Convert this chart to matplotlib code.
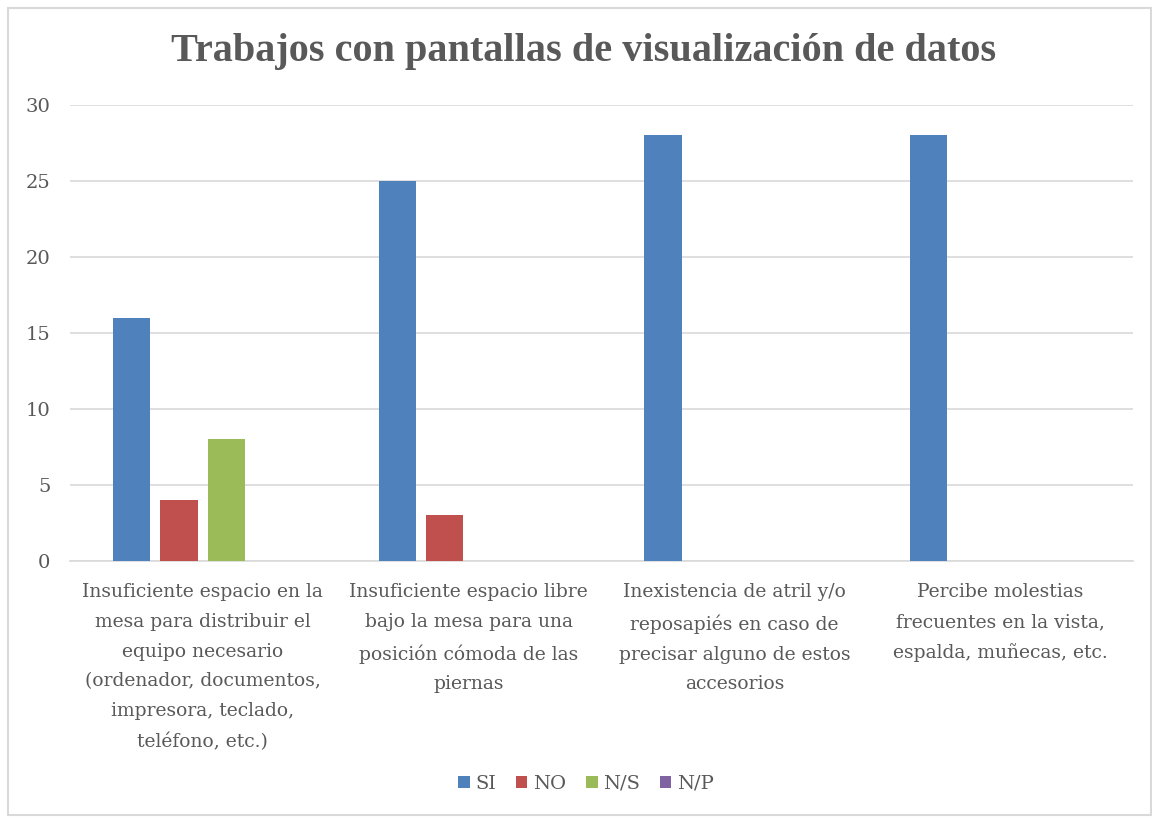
import matplotlib
matplotlib.use("Agg")
import matplotlib.pyplot as plt
import numpy as np

categories = [
    "Insuficiente espacio en la\nmesa para distribuir el\nequipo necesario\n(ordenador, documentos,\nimpresora, teclado,\nteléfono, etc.)",
    "Insuficiente espacio libre\nbajo la mesa para una\nposición cómoda de las\npiernas",
    "Inexistencia de atril y/o\nreposapiés en caso de\nprecisar alguno de estos\naccesorios",
    "Percibe molestias\nfrecuentes en la vista,\nespalda, muñecas, etc.",
]
series_names = ["SI", "NO", "N/S", "N/P"]
si = [16, 25, 28, 28]
no = [4, 3, 0, 0]
ns = [8, 0, 0, 0]
np_ = [0, 0, 0, 0]
values = [si, no, ns, np_]
colors = ["#4F81BD", "#C0504D", "#9BBB59", "#8064A2"]
yticks = [0, 5, 10, 15, 20, 25, 30]

FONT = "DejaVu Serif"
txt = "#595959"

fig = plt.figure(figsize=(11.52, 8.17), dpi=100)
fig.patches.append(plt.Rectangle((8/1152, 2/817), 1 - 9/1152, 1 - 10/817,
                                 transform=fig.transFigure, fill=False,
                                 edgecolor="#D9D9D9", linewidth=1.5))

ax = fig.add_axes([70/1152, 1 - 561/817, (1133-70)/1152, (561-105)/817])
x = np.arange(len(categories))
width = 0.14
step = 0.179
for i, (name, vals, c) in enumerate(zip(series_names, values, colors)):
    ax.bar(x + (i - 1.5) * step, vals, width=width, color=c, label=name, zorder=3)

ax.set_xlim(-0.5, len(categories) - 0.5)
ax.set_ylim(0, 30)
ax.set_yticks(yticks)
ax.set_yticklabels([str(v) for v in yticks], fontsize=14, color=txt, family=FONT)
ax.yaxis.grid(True, color="#D9D9D9", linewidth=1.2, zorder=0)
ax.set_xticks(x)
ax.set_xticklabels(categories, fontsize=13.5, color=txt, family=FONT,
                   linespacing=1.84, va="top")
ax.tick_params(axis="both", length=0)
ax.tick_params(axis="x", pad=16)
ax.tick_params(axis="y", pad=14)
for s in ["top", "right", "left"]:
    ax.spines[s].set_visible(False)
ax.spines["bottom"].set_color("#D9D9D9")
ax.spines["bottom"].set_linewidth(1.2)

fig.text(584/1152, 1 - 51/817, "Trabajos con pantallas de visualización de datos",
         ha="center", va="center", fontsize=29, fontweight="bold", color=txt,
         family="Liberation Serif")

leg = fig.legend(loc="center", bbox_to_anchor=(586/1152, 1 - 784/817), ncol=4,
                 frameon=False, prop={"family": FONT, "size": 14},
                 handlelength=0.6, handleheight=0.6, handletextpad=0.3, columnspacing=1.0)
for t in leg.get_texts():
    t.set_color(txt)

fig.savefig("out.png", dpi=100)
